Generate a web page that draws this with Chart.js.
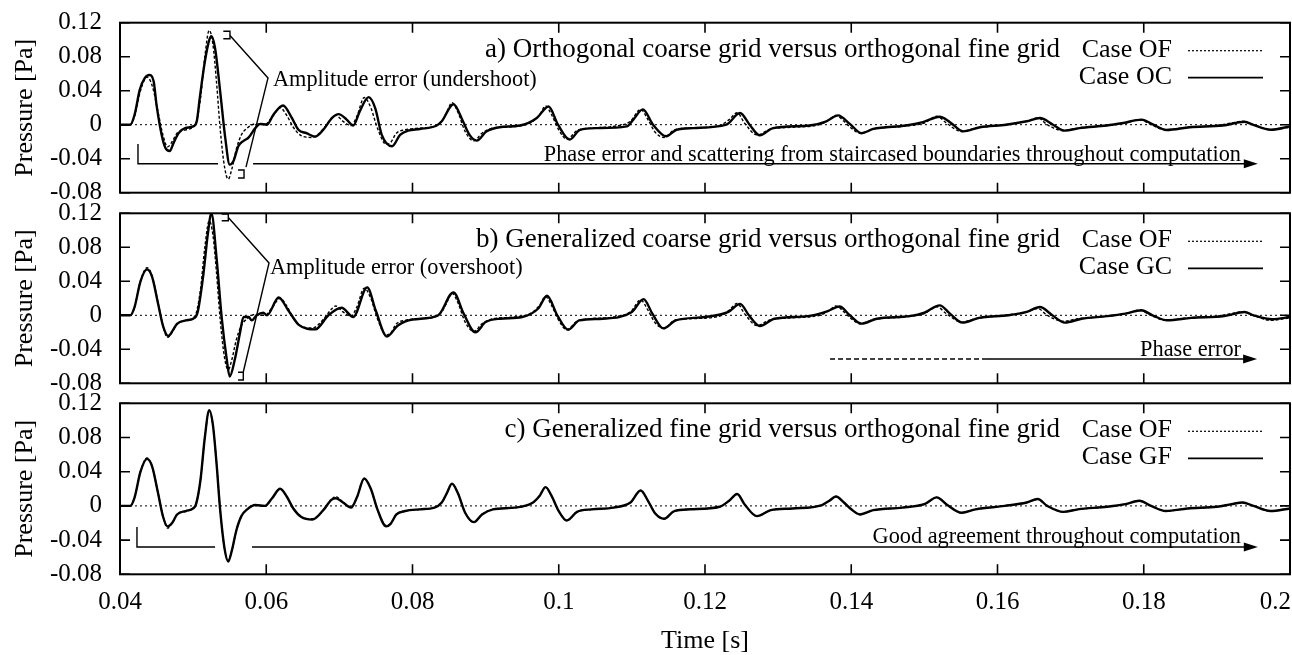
<!DOCTYPE html>
<html><head><meta charset="utf-8">
<script src="https://cdn.jsdelivr.net/npm/chart.js@4.4.0/dist/chart.umd.min.js"></script>
<style>
html,body{margin:0;padding:0;background:#fff;}
#wrap{position:relative;width:1292px;height:655px;overflow:hidden;background:#fff;}
.pane{position:absolute;left:0;width:1292px;}
</style></head><body>
<div id="wrap">
<div class="pane" style="top:0px;height:206px"><canvas id="ca"></canvas></div>
<div class="pane" style="top:199px;height:200px"><canvas id="cb"></canvas></div>
<div class="pane" style="top:389px;height:266px"><canvas id="cc"></canvas></div>
</div>
<script>
// ---------- data ----------
const xTicks = [0.04,0.06,0.08,0.1,0.12,0.14,0.16,0.18,0.2];
const xTickLabels = ['0.04','0.06','0.08','0.1','0.12','0.14','0.16','0.18','0.2'];
const yTicks = [-0.08,-0.04,0,0.04,0.08,0.12];
const yTickLabels = ['-0.08','-0.04','0','0.04','0.08','0.12'];

const panelTitles = [
  'a) Orthogonal coarse grid versus orthogonal fine grid',
  'b) Generalized coarse grid versus orthogonal fine grid',
  'c) Generalized fine grid versus orthogonal fine grid'
];
const seriesNames = ['Case OF','Case OC','Case GC','Case GF'];

// Case OF (orthogonal fine grid) - reference, shown in all panels
const ofTime = [
 0.0400,0.0414,0.0420,0.0428,0.0437,0.0444,0.0452,0.0459,0.0465,0.0472,
 0.0478,0.0490,0.0500,0.0504,0.0510,0.0516,0.0522,0.0527,0.0532,0.0537,
 0.0543,0.0548,0.0553,0.0559,0.0566,0.0574,0.0585,0.0598,0.0608,0.0619,
 0.0628,0.0637,0.0648,0.0663,0.0678,0.0689,0.0695,0.0705,0.0716,0.0724,
 0.0734,0.0743,0.0752,0.0764,0.0770,0.0778,0.0790,0.0810,0.0830,0.0840,
 0.0847,0.0854,0.0862,0.0872,0.0884,0.0895,0.0910,0.0940,0.0963,0.0974,
 0.0982,0.0990,0.1000,0.1011,0.1025,0.1045,0.1075,0.1098,0.1112,0.1122,
 0.1132,0.1144,0.1158,0.1180,0.1220,0.1233,0.1244,0.1254,0.1271,0.1290,
 0.1320,0.1360,0.1370,0.1379,0.1390,0.1400,0.1412,0.1430,0.1470,0.1500,
 0.1517,0.1530,0.1551,0.1570,0.1610,0.1640,0.1655,0.1668,0.1690,0.1710,
 0.1750,0.1775,0.1794,0.1810,0.1830,0.1860,0.1900,0.1920,0.1935,0.1950,
 0.1973,0.2000];
const ofPressure = [
 0,0,0.010,0.040,0.056,0.046,0.015,-0.013,-0.026,-0.019,
 -0.010,-0.006,-0.003,0.002,0.030,0.080,0.111,0.095,0.050,-0.005,
 -0.050,-0.064,-0.052,-0.029,-0.012,-0.004,0.001,0.000,0.009,0.020,
 0.011,-0.003,-0.013,-0.015,-0.005,0.007,0.011,0.004,-0.001,0.010,
 0.032,0.020,-0.004,-0.023,-0.021,-0.010,-0.006,-0.004,-0.002,0.004,
 0.015,0.026,0.015,-0.008,-0.019,-0.010,-0.004,-0.002,0.003,0.012,
 0.022,0.012,-0.006,-0.017,-0.007,-0.004,-0.002,0.004,0.018,0.006,
 -0.009,-0.015,-0.006,-0.004,-0.001,0.006,0.014,0.002,-0.012,-0.005,
 -0.003,0.001,0.006,0.011,0.004,-0.004,-0.010,-0.005,-0.002,0.002,
 0.010,0.002,-0.008,-0.004,0.000,0.004,0.008,0.000,-0.007,-0.004,
 -0.001,0.002,0.006,0.000,-0.006,-0.003,-0.001,0.002,0.004,0.000,
 -0.006,-0.003];

// Case OC (orthogonal coarse grid)
const ocTime = [
 0.0400,0.0414,0.0420,0.0427,0.0434,0.0440,0.0446,0.0450,0.0457,0.0462,
 0.0468,0.0473,0.0480,0.0489,0.0500,0.0505,0.0509,0.0516,0.0522,0.0525,
 0.0530,0.0537,0.0544,0.0550,0.0555,0.0562,0.0569,0.0576,0.0585,0.0592,
 0.0601,0.0610,0.0623,0.0635,0.0644,0.0655,0.0667,0.0678,0.0690,0.0699,
 0.0710,0.0719,0.0728,0.0740,0.0749,0.0758,0.0772,0.0783,0.0794,0.0810,
 0.0833,0.0840,0.0856,0.0869,0.0878,0.0888,0.0901,0.0919,0.0947,0.0970,
 0.0986,0.0999,0.1015,0.1029,0.1052,0.1093,0.1102,0.1115,0.1129,0.1147,
 0.1161,0.1184,0.1229,0.1248,0.1261,0.1275,0.1293,0.1343,0.1366,0.1382,
 0.1398,0.1414,0.1430,0.1475,0.1498,0.1521,0.1535,0.1553,0.1576,0.1612,
 0.1640,0.1658,0.1676,0.1692,0.1712,0.1749,0.1772,0.1797,0.1813,0.1831,
 0.1863,0.1908,0.1938,0.1949,0.1974,0.2000];
const ocPressure = [
 0,0,0.012,0.041,0.055,0.0585,0.051,0.023,-0.012,-0.027,
 -0.031,-0.022,-0.010,-0.004,-0.002,0.004,0.031,0.074,0.0995,0.104,
 0.090,0.039,-0.016,-0.047,-0.043,-0.025,-0.019,-0.015,-0.004,0.001,
 0.000,0.012,0.0226,0.008,-0.006,-0.010,-0.014,-0.006,0.008,0.0125,
 0.006,-0.001,0.016,0.0324,0.0195,-0.012,-0.0254,-0.012,-0.007,-0.005,
 -0.001,0.004,0.024,0.004,-0.012,-0.0187,-0.008,-0.003,-0.001,0.008,
 0.0214,0.000,-0.0175,-0.006,-0.004,-0.002,0.006,0.018,0.000,-0.0136,
 -0.006,-0.004,0.000,0.0137,0.000,-0.0125,-0.004,-0.001,0.004,0.011,
 0.001,-0.010,-0.005,-0.001,0.003,0.0094,0.003,-0.0078,-0.003,0.000,
 0.004,0.0078,0.000,-0.007,-0.004,-0.001,0.002,0.006,0.000,-0.0062,
 -0.003,-0.001,0.0035,0.000,-0.006,-0.002];

// Case GC (generalized coarse grid)
const gcTime = [
 0.0400,0.0414,0.0420,0.0428,0.0437,0.0444,0.0452,0.0459,0.0466,0.0472,
 0.0478,0.0490,0.0500,0.0506,0.0514,0.0520,0.0525,0.0532,0.0539,0.0546,
 0.0550,0.0557,0.0564,0.0569,0.0576,0.0580,0.0587,0.0596,0.0601,0.0617,
 0.0630,0.0645,0.0667,0.0685,0.0703,0.0719,0.0738,0.0750,0.0765,0.0780,
 0.0800,0.0835,0.0856,0.0870,0.0886,0.0900,0.0920,0.0950,0.0972,0.0984,
 0.0998,0.1013,0.1028,0.1060,0.1100,0.1116,0.1128,0.1143,0.1160,0.1200,
 0.1232,0.1248,0.1260,0.1275,0.1295,0.1340,0.1368,0.1384,0.1398,0.1414,
 0.1435,0.1480,0.1500,0.1521,0.1535,0.1552,0.1575,0.1615,0.1640,0.1658,
 0.1675,0.1692,0.1715,0.1750,0.1775,0.1797,0.1812,0.1832,0.1865,0.1910,
 0.1938,0.1950,0.1976,0.2000];
const gcPressure = [
 0,0,0.010,0.040,0.054,0.045,0.014,-0.013,-0.0243,-0.018,
 -0.010,-0.006,-0.004,0.003,0.048,0.095,0.120,0.068,-0.002,-0.052,
 -0.072,-0.052,-0.021,-0.002,-0.002,-0.006,0.000,0.003,0.000,0.021,
 0.006,-0.0116,-0.0166,0.000,0.0089,-0.002,0.0328,0.005,-0.025,-0.012,
 -0.005,0.000,0.027,0.002,-0.020,-0.008,-0.004,-0.002,0.008,0.023,
 0.000,-0.017,-0.006,-0.004,0.004,0.019,0.002,-0.0154,-0.006,-0.002,
 0.004,0.0135,0.000,-0.0127,-0.004,-0.001,0.005,0.0104,0.000,-0.0098,
 -0.004,-0.001,0.003,0.0117,0.002,-0.0086,-0.003,0.000,0.004,0.0098,
 0.000,-0.0086,-0.004,-0.001,0.002,0.0059,0.000,-0.0059,-0.003,-0.001,
 0.0039,0.000,-0.0047,-0.002];

// Case GF (generalized fine grid), sampled at the same times as OF
const gfTime = ofTime;
const gfPressure = [
 0,0,0.010,0.040,0.055,0.046,0.015,-0.013,-0.024,-0.019,
 -0.010,-0.006,-0.003,0.002,0.030,0.080,0.112,0.095,0.050,-0.005,
 -0.050,-0.065,-0.052,-0.029,-0.012,-0.004,0.001,0.000,0.009,0.020,
 0.011,-0.003,-0.013,-0.016,-0.005,0.007,0.009,0.004,-0.002,0.010,
 0.032,0.020,-0.004,-0.024,-0.021,-0.010,-0.006,-0.004,-0.002,0.004,
 0.015,0.026,0.015,-0.008,-0.019,-0.010,-0.004,-0.002,0.003,0.012,
 0.022,0.012,-0.006,-0.017,-0.007,-0.004,-0.002,0.004,0.018,0.006,
 -0.009,-0.015,-0.006,-0.004,-0.001,0.006,0.014,0.002,-0.012,-0.005,
 -0.003,0.001,0.006,0.011,0.004,-0.004,-0.010,-0.005,-0.002,0.002,
 0.010,0.002,-0.008,-0.004,0.000,0.004,0.008,0.000,-0.007,-0.004,
 -0.001,0.002,0.006,0.000,-0.006,-0.003,-0.001,0.002,0.004,0.000,
 -0.006,-0.003];

// ---------- annotations (in data coordinates) ----------
const annotA = {
  lines: [
    {pts:[[0.04246,-0.0227],[0.04246,-0.046],[0.0534,-0.046]]},
    {pts:[[0.05413,0.1099],[0.05504,0.1099],[0.05504,0.1012],[0.05413,0.1012]]},
    {pts:[[0.05504,0.1050],[0.06024,0.0549],[0.05723,-0.0500]]},
    {pts:[[0.05614,-0.0533],[0.05696,-0.0533],[0.05696,-0.0627],[0.05614,-0.0627]]}
  ],
  arrows: [{pts:[[0.0582,-0.046],[0.1956,-0.046]]}],
  texts: [
    {text:'Amplitude error (undershoot)', at:[0.06092,0.0526], align:'left'},
    {text:'Phase error and scattering from staircased boundaries throughout computation', at:[0.1933,-0.0356], align:'right'}
  ]
};
const annotB = {
  lines: [
    {pts:[[0.05391,0.1192],[0.05481,0.1192],[0.05481,0.1113],[0.05391,0.1113]]},
    {pts:[[0.05481,0.1150],[0.06038,0.0615],[0.05686,-0.0667]]},
    {pts:[[0.05614,-0.0670],[0.05686,-0.0670],[0.05686,-0.0761],[0.05614,-0.0761]]},
    {pts:[[0.1371,-0.0514],[0.1583,-0.0514]], dash:[5,3]}
  ],
  arrows: [{pts:[[0.1583,-0.0514],[0.1955,-0.0514]]}],
  texts: [
    {text:'Amplitude error (overshoot)', at:[0.06051,0.0553], align:'left'},
    {text:'Phase error', at:[0.1933,-0.0408], align:'right'}
  ]
};
const annotC = {
  lines: [
    {pts:[[0.04232,-0.0247],[0.04232,-0.0481],[0.0530,-0.0481]]}
  ],
  arrows: [{pts:[[0.05805,-0.0481],[0.1956,-0.0481]]}],
  texts: [
    {text:'Good agreement throughout computation', at:[0.1933,-0.0364], align:'right'}
  ]
};

// ---------- drawing ----------
const FONT = '"Liberation Serif", "Times New Roman", Times, serif';
function zip(t, p){ return t.map((x,i)=>({x:x, y:p[i]})); }

function toPx(chart, t, p){
  return [chart.scales.x.getPixelForValue(t), chart.scales.y.getPixelForValue(p)];
}

const panelPlugin = {
  id: 'panel',
  beforeDatasetsDraw(chart){
    const {ctx, chartArea:a, scales:{y}} = chart;
    const y0 = y.getPixelForValue(0);
    ctx.save();
    ctx.strokeStyle = '#000'; ctx.lineWidth = 1; ctx.setLineDash([2,3]);
    ctx.beginPath(); ctx.moveTo(a.left, y0); ctx.lineTo(a.right, y0); ctx.stroke();
    ctx.restore();
  },
  afterDraw(chart){
    const o = chart.options.plugins.panel;
    const {ctx, chartArea:a, scales:{x, y}} = chart;
    ctx.save();
    ctx.strokeStyle = '#000'; ctx.fillStyle = '#000';
    // inward ticks
    ctx.lineWidth = 1.6;
    ctx.beginPath();
    xTicks.forEach(v => { const X = x.getPixelForValue(v);
      ctx.moveTo(X, a.top); ctx.lineTo(X, a.top + 10);
      ctx.moveTo(X, a.bottom); ctx.lineTo(X, a.bottom - 10); });
    yTicks.forEach(v => { const Y = y.getPixelForValue(v);
      ctx.moveTo(a.left, Y); ctx.lineTo(a.left + 10, Y);
      ctx.moveTo(a.right, Y); ctx.lineTo(a.right - 10, Y); });
    ctx.stroke();
    // frame
    ctx.lineWidth = 2;
    ctx.strokeRect(a.left, a.top, a.right - a.left, a.bottom - a.top);

    // title + legend
    ctx.font = '27px ' + FONT;
    ctx.textBaseline = 'middle';
    ctx.textAlign = 'right';
    ctx.fillText(o.title, 1060, a.top + 27);
    ctx.font = '26px ' + FONT;
    chart.data.datasets.forEach((ds, i) => {
      const ly = a.top + 27 + i * 27;
      ctx.textAlign = 'right';
      ctx.fillText(ds.label, 1172, ly);
      ctx.lineWidth = i === 0 ? 1.2 : 1.8;
      ctx.setLineDash(i === 0 ? [2,2] : []);
      ctx.beginPath(); ctx.moveTo(1188, ly + 1); ctx.lineTo(1263, ly + 1); ctx.stroke();
      ctx.setLineDash([]);
    });

    // annotations
    const an = o.annot;
    ctx.lineWidth = 1.4;
    an.lines.forEach(l => {
      ctx.setLineDash(l.dash || []);
      ctx.beginPath();
      l.pts.forEach((pt, i) => { const [X, Y] = toPx(chart, pt[0], pt[1]); i ? ctx.lineTo(X, Y) : ctx.moveTo(X, Y); });
      ctx.stroke();
      ctx.setLineDash([]);
    });
    an.arrows.forEach(l => {
      const [x1, y1] = toPx(chart, l.pts[0][0], l.pts[0][1]);
      const [x2, y2] = toPx(chart, l.pts[1][0], l.pts[1][1]);
      ctx.beginPath(); ctx.moveTo(x1, y1); ctx.lineTo(x2 - 8, y2); ctx.stroke();
      ctx.beginPath(); ctx.moveTo(x2, y2); ctx.lineTo(x2 - 14, y2 - 4.5); ctx.lineTo(x2 - 14, y2 + 4.5); ctx.closePath(); ctx.fill();
    });
    ctx.font = '22.3px ' + FONT;
    an.texts.forEach(t => {
      const [X, Y] = toPx(chart, t.at[0], t.at[1]);
      ctx.textAlign = t.align; ctx.textBaseline = 'middle';
      ctx.fillText(t.text, X, Y);
    });

    // x tick labels (bottom panel)
    if (o.xLabels){
      ctx.font = '25px ' + FONT;
      ctx.textAlign = 'center'; ctx.textBaseline = 'middle';
      xTicks.forEach((v, i) => {
        const s = xTickLabels[i];
        const w = ctx.measureText(s).width;
        let X = x.getPixelForValue(v);
        if (X + w / 2 > chart.width - 1) X = chart.width - 1 - w / 2;
        ctx.fillText(s, X, a.bottom + 28);
      });
    }
    ctx.restore();
  }
};

function makeChart(id, solidT, solidP, solidName, title, annot, isBottom, padTop, padBottom){
  return new Chart(document.getElementById(id), {
    type: 'line',
    data: { datasets: [
      { label: seriesNames[0], data: zip(ofTime, ofPressure), borderColor:'#000', borderWidth:1.4,
        borderDash:[3,2], pointRadius:0, cubicInterpolationMode:'monotone', fill:false },
      { label: solidName, data: zip(solidT, solidP), borderColor:'#000', borderWidth:2.4,
        pointRadius:0, cubicInterpolationMode:'monotone', fill:false }
    ]},
    options: {
      responsive:true, maintainAspectRatio:false, animation:false, events:[],
      layout:{ padding:{ top:padTop, bottom:padBottom, left:0, right:2 } },
      plugins:{ legend:{display:false}, tooltip:{enabled:false},
        panel:{ title:title, annot:annot, xLabels:isBottom } },
      scales:{
        x:{ type:'linear', min:0.04, max:0.2, display:isBottom,
          afterBuildTicks: s => { s.ticks = xTicks.map(v => ({value:v})); },
          ticks:{ display:false },
          grid:{ display:false, drawTicks:false }, border:{ display:false },
          title:{ display:isBottom, text:'Time [s]', color:'#000',
            font:{ family:FONT, size:26, lineHeight:1.1 }, padding:{ top:0, bottom:0 } },
          afterFit: s => { if (isBottom) { s.height = 80.7; } else { s.height = 0; } s.paddingLeft = 0; s.paddingRight = 0; }
        },
        y:{ type:'linear', min:-0.08, max:0.12,
          afterBuildTicks: s => { s.ticks = yTicks.map(v => ({value:v})); },
          ticks:{ color:'#000', padding:18, autoSkip:false, font:{ family:FONT, size:25, lineHeight:1.0 },
            callback: (v, i) => yTickLabels[i] },
          grid:{ display:false, drawTicks:false }, border:{ display:false },
          title:{ display:true, text:'Pressure [Pa]', color:'#000',
            font:{ family:FONT, size:26 }, padding:{ top:10, bottom:0 } },
          afterFit: s => { s.width = 120; s.paddingTop = 0; s.paddingBottom = 0; }
        }
      }
    },
    plugins:[panelPlugin]
  });
}

makeChart('ca', ocTime, ocPressure, seriesNames[1], panelTitles[0], annotA, false, 22.7, 13.3);
makeChart('cb', gcTime, gcPressure, seriesNames[2], panelTitles[1], annotB, false, 14.3, 15.7);
makeChart('cc', gfTime, gfPressure, seriesNames[3], panelTitles[2], annotC, true, 14.3, 0);
</script>
</body></html>
